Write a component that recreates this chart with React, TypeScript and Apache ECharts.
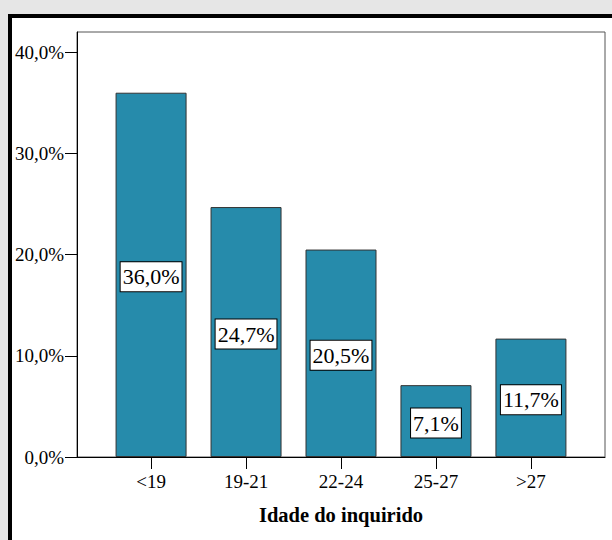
import React, { useEffect, useRef } from "react";
import * as echarts from "echarts";

const categories = ["<19", "19-21", "22-24", "25-27", ">27"];
const percentages = [36.0, 24.7, 20.5, 7.1, 11.7];
const yTicks = [0, 10, 20, 30, 40];
const xAxisTitle = "Idade do inquirido";

const FONT = "'Liberation Serif', 'Times New Roman', serif";

const fmtPct = (v: number) => v.toFixed(1).replace(".", ",") + "%";

export default function App() {
  const ref = useRef<HTMLDivElement>(null);
  useEffect(() => {
    if (!ref.current) return;
    const chart = echarts.init(ref.current, null, { renderer: "svg" });
    chart.setOption({
      animation: false,
      backgroundColor: "#e6e6e6",
      graphic: [
        {
          type: "rect",
          z: -10,
          silent: true,
          shape: { x: 10, y: 16, width: 700, height: 700 },
          style: { fill: "#ffffff", stroke: "#000000", lineWidth: 4 },
        },
      ],
      grid: {
        left: 77,
        right: 7,
        top: 32,
        bottom: 83,
        show: true,
        borderColor: "#555555",
        borderWidth: 1,
        backgroundColor: "transparent",
      },
      xAxis: {
        type: "value",
        min: -0.78,
        max: 4.78,
        splitLine: { show: false },
        axisLine: { onZero: false, lineStyle: { color: "#000", width: 1 } },
        axisTick: {
          show: true,
          length: 12,
          customValues: categories.map((_, i) => i),
          lineStyle: { color: "#000" },
        },
        axisLabel: {
          customValues: categories.map((_, i) => i),
          formatter: (v: number) => categories[Math.round(v)] ?? "",
          margin: 15,
          fontFamily: FONT,
          fontSize: 19,
          color: "#000",
        },
        name: xAxisTitle,
        nameLocation: "middle",
        nameGap: 58,
        nameTextStyle: {
          fontFamily: FONT,
          fontSize: 20.5,
          fontWeight: "bold",
          color: "#000",
          verticalAlign: "middle",
        },
      },
      yAxis: {
        type: "value",
        min: 0,
        max: 42,
        interval: 10,
        splitLine: { show: false },
        axisLine: { show: true, onZero: false, lineStyle: { color: "#000", width: 1 } },
        axisTick: {
          show: true,
          length: 12,
          customValues: yTicks,
          lineStyle: { color: "#000" },
        },
        axisLabel: {
          customValues: yTicks,
          formatter: (v: number) => fmtPct(v),
          margin: 13,
          fontFamily: FONT,
          fontSize: 19,
          color: "#000",
        },
      },
      series: [
        {
          type: "bar",
          barWidth: 71,
          data: percentages.map((v, i) => [i, v]),
          itemStyle: { color: "#268bab", borderColor: "#333333", borderWidth: 1 },
          label: {
            show: true,
            position: "inside",
            offset: [0, 2],
            formatter: (p: any) => fmtPct(p.value[1]),
            fontFamily: FONT,
            fontSize: 22,
            lineHeight: 24,
            color: "#000",
            backgroundColor: "#ffffff",
            borderColor: "#000000",
            borderWidth: 1,
            padding: [3, 2, 2, 2],
          },
        },
      ],
    });
    return () => chart.dispose();
  }, []);
  return (
    <div
      ref={ref}
      style={{ position: "absolute", left: 0, top: 0, width: 612, height: 540 }}
    />
  );
}
